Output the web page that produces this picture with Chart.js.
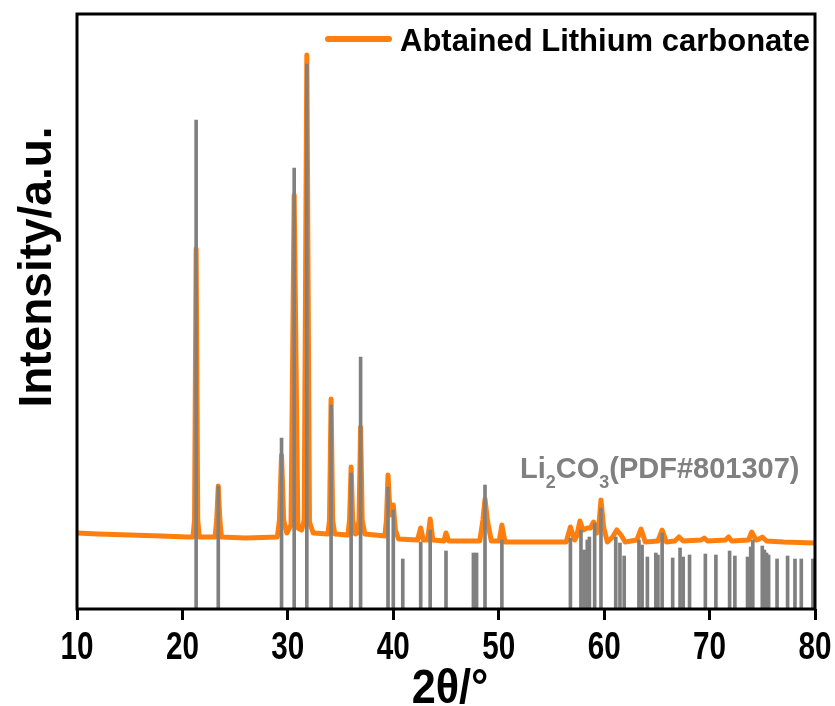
<!DOCTYPE html>
<html>
<head>
<meta charset="utf-8">
<script src="https://cdn.jsdelivr.net/npm/chart.js@4.4.1/dist/chart.umd.min.js"></script>
<style>
  body { margin: 0; background: #fff; }
  #wrap { width: 835px; height: 706px; }
</style>
</head>
<body>
<div id="wrap"><canvas id="myChart" width="835" height="706"></canvas></div>
<script>
  // measured trace of the sample (2theta, intensity in a.u.)
  var twoTheta = [10, 12, 15, 18, 20.5, 21.0, 21.15, 21.3, 21.45, 21.6,
    23.1, 23.25, 23.4, 23.55, 23.7, 26, 29.0, 29.2, 29.4, 29.6, 29.9, 30.3, 30.6, 30.95, 31.3, 31.55, 31.8, 32.05, 32.4,
    33.8, 33.95, 34.1, 34.25, 34.45, 35.7, 35.85, 36.0, 36.15, 36.4, 36.6, 36.75, 36.9, 37.05, 37.3,
    39.2, 39.35, 39.5, 39.7, 39.85, 40.0, 40.2, 40.5, 42.3, 42.6, 42.85, 43.25, 43.5, 43.75, 44.8, 45.0, 45.25,
    48.2, 48.5, 48.7, 48.95, 49.3, 50.05, 50.3, 50.6, 56.4, 56.8, 57.2, 57.4, 57.7, 58.0, 58.4, 58.7, 59.0, 59.3, 59.5, 59.7, 59.95,
    60.3, 60.8, 61.2, 61.6, 62.0, 63.1, 63.5, 63.9, 65.1, 65.5, 65.9, 66.7, 67.1, 67.5, 69.2, 69.5, 69.8,
    71.5, 71.8, 72.1, 73.7, 74.0, 74.4, 74.7, 75.0, 75.4, 77, 80];
  var intensity = [76, 75, 74, 73, 72, 72, 89, 360, 89, 72,
    72, 89, 123, 89, 72, 71, 72, 89, 154, 89, 76, 84, 414, 81, 79, 89, 554, 87, 76,
    75, 89, 210, 89, 75, 74, 89, 142, 89, 75, 76, 89, 182, 89, 75,
    73, 89, 134, 94, 99, 104, 79, 70, 69, 81, 69, 69, 90, 69, 68, 76, 68,
    68, 89, 110, 87, 68, 68, 84, 67, 67, 82, 69, 73, 88, 79, 81, 81, 87, 76, 84, 109, 82,
    67, 72, 79, 74, 67, 69, 80, 67, 68, 79, 67, 68, 72, 68, 69, 71, 68,
    69, 72, 68, 69, 77, 69, 70, 72, 68, 67, 66];

  // reference pattern Li2CO3 (PDF#801307)
  var pdfPos = [21.3, 23.4, 29.4, 30.6, 31.8, 34.1, 36.0, 36.9, 39.5, 40.0, 40.9, 42.6, 43.5, 45.0, 47.6, 47.9, 48.7, 50.3,
    56.8, 57.8, 58.1, 58.4, 58.6, 59.1, 59.7, 61.1, 61.5, 61.9, 63.3, 63.6, 64.1, 64.9, 65.1, 65.5, 66.5, 67.2, 67.5, 68.1,
    69.6, 70.6, 71.9, 72.4, 73.6, 73.9, 74.1, 75.0, 75.2, 75.4, 75.6, 76.4, 77.4, 78.1, 78.7, 79.8];
  var pdfInt = [489, 123, 171, 441, 545, 204, 136, 252, 122, 99, 50, 67, 79, 58, 56, 56, 124, 69,
    71, 79, 59, 69, 72, 86, 101, 72, 66, 53, 69, 64, 52, 56, 54, 76, 51, 61, 52, 54,
    55, 54, 58, 53, 52, 62, 69, 63, 59, 56, 54, 50, 53, 50, 50, 50];

  var xTicks = [10, 20, 30, 40, 50, 60, 70, 80];
  var seriesName = "Abtained Lithium carbonate";

  var orange = "#ff7f0e";
  var grey = "#808080";

  var trace = twoTheta.map(function (t, i) { return { x: t, y: intensity[i] }; });
  var sticks = pdfPos.map(function (t, i) { return { x: t, y: pdfInt[i] }; });

  var textPlugin = {
    id: "texts",
    afterDraw: function (chart) {
      var c = chart.ctx, a = chart.chartArea;
      c.save();
      // frame
      c.strokeStyle = "#000";
      c.lineWidth = 3;
      c.strokeRect(a.left, a.top, a.right - a.left, a.bottom - a.top);
      // narrow bold tick labels
      c.fillStyle = "#000";
      c.textAlign = "center";
      c.textBaseline = "alphabetic";
      c.font = "bold 38px 'Liberation Sans', Arial, sans-serif";
      xTicks.forEach(function (v) {
        var px = chart.scales.x.getPixelForValue(v);
        c.save();
        c.translate(px, 659);
        c.scale(0.78, 1);
        c.fillText(String(v), 0, 0);
        c.restore();
      });
      // legend
      c.strokeStyle = orange;
      c.lineWidth = 6;
      c.lineCap = "round";
      c.beginPath();
      c.moveTo(328, 39);
      c.lineTo(389, 39);
      c.stroke();
      c.textAlign = "left";
      c.font = "bold 31px 'Liberation Sans', Arial, sans-serif";
      c.fillText(seriesName, 400, 51);
      // reference label with subscripts
      c.fillStyle = grey;
      var x = 520, big = "bold 29px 'Liberation Sans', Arial, sans-serif", small = "bold 18px 'Liberation Sans', Arial, sans-serif";
      var parts = [["Li", 0], ["2", 1], ["CO", 0], ["3", 1], ["(PDF#801307)", 0]];
      parts.forEach(function (p) {
        c.font = p[1] ? small : big;
        c.fillText(p[0], x, p[1] ? 488 : 478);
        x += c.measureText(p[0]).width;
      });
      // y title
      c.fillStyle = "#000";
      c.save();
      c.translate(51, 267);
      c.rotate(-Math.PI / 2);
      c.textAlign = "center";
      c.font = "bold 46px 'Liberation Sans', Arial, sans-serif";
      c.fillText("Intensity/a.u.", 0, 0);
      c.restore();
      // x title
      c.save();
      c.translate(450, 703);
      c.scale(0.9, 1);
      c.textAlign = "center";
      c.font = "bold 48px 'Liberation Sans', Arial, sans-serif";
      c.fillText("2\u03b8/\u00b0", 0, 0);
      c.restore();
      c.restore();
    }
  };

  var ctx = document.getElementById("myChart");
  var myChart = new Chart(ctx, {
    type: 'line',
    data: {
      datasets: [
        {
          type: 'bar',
          data: sticks,
          backgroundColor: grey,
          barThickness: 3,
          grouped: false,
          order: 0
        },
        {
          data: trace,
          label: seriesName,
          borderColor: orange,
          borderWidth: 5,
          borderJoinStyle: 'round',
          pointRadius: 0,
          tension: 0,
          fill: false,
          order: 1
        }
      ]
    },
    options: {
      responsive: false,
      animation: false,
      layout: { padding: { left: 77, right: 20, top: 14, bottom: 0 } },
      plugins: { legend: { display: false }, tooltip: { enabled: false } },
      scales: {
        x: {
          type: 'linear',
          min: 10,
          max: 80,
          offset: false,
          afterFit: function (s) { s.height = 97; s.paddingLeft = 0; s.paddingRight = 0; },
          afterBuildTicks: function (s) { s.ticks = xTicks.map(function (v) { return { value: v }; }); },
          border: { display: false },
          grid: { display: true, drawOnChartArea: false, offset: false, tickLength: 11, lineWidth: 3, color: "#000" },
          ticks: { display: false }
        },
        y: {
          display: false,
          min: 0,
          max: 595
        }
      }
    },
    plugins: [textPlugin]
  });
</script>
</body>
</html>
